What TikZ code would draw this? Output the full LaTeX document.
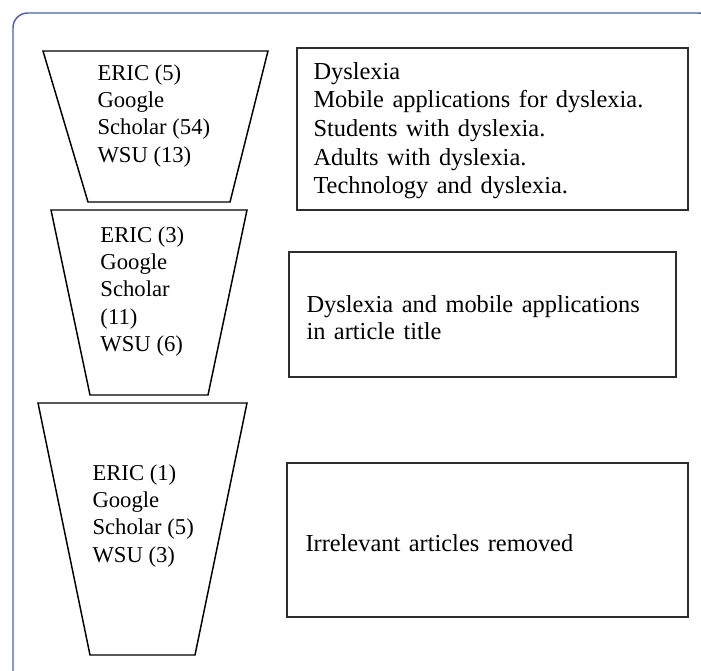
\documentclass[tikz,border=0pt]{standalone}
\usepackage{fontspec}
\setmainfont{Liberation Serif}
\definecolor{framecol}{RGB}{79,98,160}
\definecolor{boxcol}{RGB}{45,45,45}
\tikzset{every picture/.style={line width=0.75pt}}
\tikzset{
  funnel/.style={draw=black, line width=1.1pt, line join=miter},
  stepbox/.style={draw=boxcol, line width=1.4pt},
  steptext/.style={anchor=north west, inner sep=0pt, align=left, font=\fontsize{17}{20.5}\selectfont},
  stepterms/.style={steptext, font=\fontsize{18.3}{20.5}\selectfont, execute at begin node={\spaceskip=6.4pt\relax}}
}

\begin{document}
\begin{tikzpicture}[x=0.75pt,y=0.75pt,yscale=-1,xscale=1]
\useasboundingbox (0,0) rectangle (701,671);

%Rounded frame, cut at the right and bottom
\begin{scope}
\clip (0,0) rectangle (701,671);
\draw [color=framecol, line width=1.1pt, rounded corners=11pt] (13,13) rectangle (713,690);
\end{scope}

%Shape: Funnels
\draw [funnel] (43,51) -- (268,51) -- (230,202) -- (88,202) -- cycle;
\draw [funnel] (51,210) -- (247,210) -- (208,395) -- (90,395) -- cycle;
\draw [funnel] (38,403) -- (247,403) -- (195,655) -- (90,655) -- cycle;

%Shape: Rectangles
\draw [stepbox] (297,48) rectangle (688,210);
\draw [stepbox] (289,252) rectangle (676,377);
\draw [stepbox] (287,463) rectangle (688,617);

% Text Node
\node [steptext] (src1) at (97,64) {ERIC (5)\\Google\\Scholar (54)\\WSU (13)};
% Text Node
\node [stepterms, font=\fontsize{18.3}{21.4}\selectfont] (terms1) at (313,62) {Dyslexia\\Mobile applications for dyslexia.\\Students with dyslexia.\\Adults with dyslexia.\\Technology and dyslexia.};
% Text Node
\node [steptext] (src2) at (100,226) {ERIC (3)\\Google\\Scholar\\(11)\\WSU (6)};
% Text Node
\node [stepterms] (terms2) at (306,295) {Dyslexia and mobile applications\\in article title};
% Text Node
\node [steptext] (src3) at (92,464) {ERIC (1)\\Google\\Scholar (5)\\WSU (3)};
% Text Node
\node [stepterms] (terms3) at (305,534) {Irrelevant articles removed};

\end{tikzpicture}
\end{document}
